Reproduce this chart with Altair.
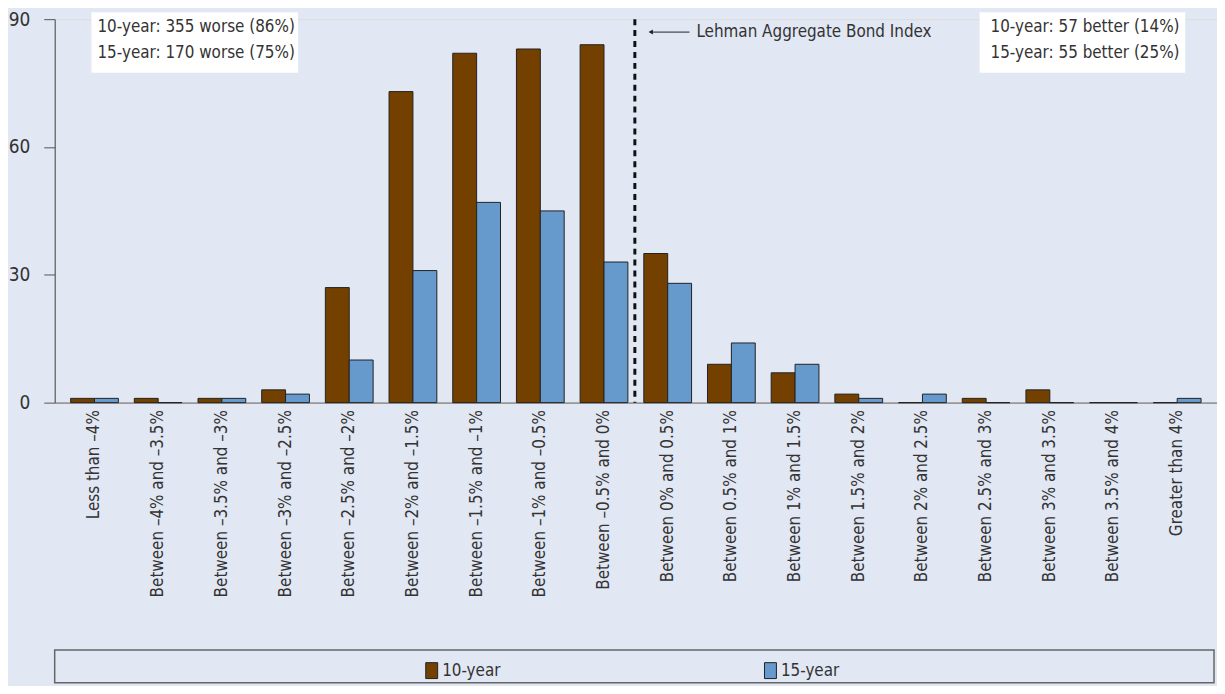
import altair as alt
import pandas as pd

categories = ["Less than –4%", "Between –4% and –3.5%", "Between –3.5% and –3%",
              "Between –3% and –2.5%", "Between –2.5% and –2%", "Between –2% and –1.5%",
              "Between –1.5% and –1%", "Between –1% and –0.5%", "Between –0.5% and 0%",
              "Between 0% and 0.5%", "Between 0.5% and 1%", "Between 1% and 1.5%",
              "Between 1.5% and 2%", "Between 2% and 2.5%", "Between 2.5% and 3%",
              "Between 3% and 3.5%", "Between 3.5% and 4%", "Greater than 4%"]
ten_year = [1, 1, 1, 3, 27, 73, 82, 83, 84, 35, 9, 7, 2, 0, 1, 3, 0, 0]
fifteen_year = [1, 0, 1, 2, 10, 31, 47, 45, 33, 28, 14, 9, 1, 2, 0, 0, 0, 1]
series = ["10-year", "15-year"]
colors = ["#734000", "#6699CC"]
y_ticks = [0, 30, 60, 90]

left_note = ["10-year: 355 worse (86%)", "15-year: 170 worse (75%)"]
right_note = ["10-year: 57 better (14%)", "15-year: 55 better (25%)"]
index_label = "Lehman Aggregate Bond Index"

rows = []
for c, a, b in zip(categories, ten_year, fifteen_year):
    rows.append({"cat": c, "series": series[0], "value": a})
    rows.append({"cat": c, "series": series[1], "value": b})
df = pd.DataFrame(rows)

FONT = "DejaVu Sans Condensed, Roboto, sans-serif"
W, H = 1170, 386

bars = alt.Chart(df).mark_bar(stroke="#222222", strokeWidth=1).encode(
    x=alt.X("cat:N", sort=categories, title=None,
            scale=alt.Scale(paddingInner=0.25, paddingOuter=0.25),
            axis=alt.Axis(labelAngle=-90, labelAlign="right", labelBaseline="middle",
                          labelFontSize=17, labelColor="#333333", labelPadding=7,
                          labelLimit=0, ticks=False, domainColor="#999999", domainWidth=2,
                          labelFont=FONT)),
    xOffset=alt.XOffset("series:N", sort=series),
    y=alt.Y("value:Q", title=None,
            scale=alt.Scale(domain=[0, 90], nice=False),
            axis=alt.Axis(values=y_ticks, grid=False, tickSize=11, tickColor="#555555",
                          domainColor="#444444", labelFontSize=19, labelColor="#333333",
                          labelPadding=14, labelFont=FONT)),
    color=alt.Color("series:N", sort=series, title=None,
                    scale=alt.Scale(domain=series, range=colors),
                    legend=alt.Legend(orient="none", legendX=371, legendY=647,
                                      direction="horizontal",
                                      symbolType="M-0.75,-1H0.75V1H-0.75Z",
                                      symbolSize=256, symbolStrokeColor="#222222",
                                      symbolStrokeWidth=1, symbolOpacity=1,
                                      labelFontSize=17, labelColor="#333333",
                                      labelFont=FONT, labelOffset=2,
                                      columnPadding=263, padding=0)),
)

legend_box = alt.Chart(pd.DataFrame({"k": [0]})).mark_rect(
    fill="#E1E7F3", stroke="#666666", strokeWidth=1.5).encode(
    x=alt.value(0), x2=alt.value(1167), y=alt.value(635), y2=alt.value(668))

box_l = alt.Chart(pd.DataFrame({"k": [0]})).mark_rect(fill="white").encode(
    x=alt.value(37), x2=alt.value(245), y=alt.value(-7), y2=alt.value(54))
box_r = alt.Chart(pd.DataFrame({"k": [0]})).mark_rect(fill="white").encode(
    x=alt.value(931), x2=alt.value(1138), y=alt.value(-7), y2=alt.value(54))

def note(txt, x, y):
    return alt.Chart(pd.DataFrame({"k": [0]})).mark_text(
        align="left", baseline="middle", fontSize=17, font=FONT, color="#333333").encode(
        x=alt.value(x), y=alt.value(y), text=alt.value(txt))

notes = [note(left_note[0], 43, 8), note(left_note[1], 43, 34),
         note(right_note[0], 942, 8), note(right_note[1], 942, 34),
         note(index_label, 646, 13)]

dash = alt.Chart(pd.DataFrame({"k": [0]})).mark_rule(
    color="#111111", strokeWidth=3, strokeDash=[6, 5]).encode(
    x=alt.value(584), y=alt.value(0), y2=alt.value(H))

arrow_line = alt.Chart(pd.DataFrame({"k": [0]})).mark_rule(
    color="#222222", strokeWidth=1).encode(
    x=alt.value(600), x2=alt.value(639), y=alt.value(13))
arrow_head = alt.Chart(pd.DataFrame({"k": [0]})).mark_point(
    shape="triangle-left", filled=True, size=25, color="#222222", opacity=1).encode(
    x=alt.value(600), y=alt.value(13))

chart = alt.layer(legend_box, bars, box_l, box_r, dash, arrow_line, arrow_head, *notes).properties(
    width=W, height=H,
    autosize=alt.AutoSizeParams(type="none"),
    padding={"left": 47, "top": 9, "right": 0, "bottom": 283},
    background="#E1E7F3",
).configure_view(stroke=None).configure(font=FONT)

chart.save("out.html", embed_options={"renderer": "svg", "actions": False})
